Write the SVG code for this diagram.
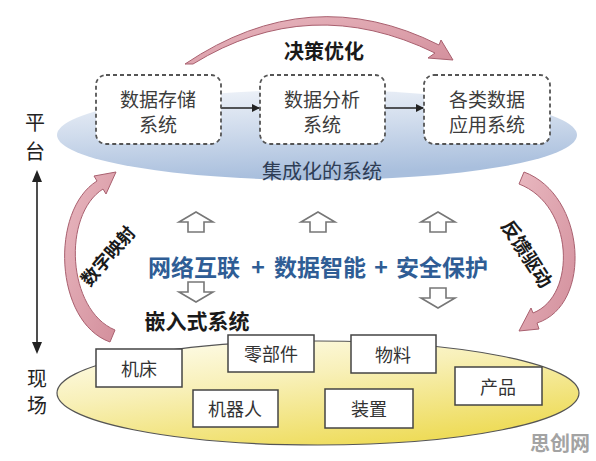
<svg xmlns="http://www.w3.org/2000/svg" width="596" height="461" viewBox="0 0 596 461">
<defs>
<linearGradient id="gBlue" x1="0" y1="0" x2="0.25" y2="1">
<stop offset="0" stop-color="#f2f5fa"/>
<stop offset="0.5" stop-color="#cfdbec"/>
<stop offset="1" stop-color="#a9bfdd"/>
</linearGradient>
<linearGradient id="gYellow" x1="0" y1="0" x2="0.6" y2="1">
<stop offset="0" stop-color="#fffef4"/>
<stop offset="0.45" stop-color="#f8f0b8"/>
<stop offset="1" stop-color="#eedc5a"/>
</linearGradient>
<linearGradient id="gPink" x1="0" y1="0" x2="1" y2="1">
<stop offset="0" stop-color="#e8b7bf"/>
<stop offset="1" stop-color="#d38f9c"/>
</linearGradient>
<marker id="ah" markerWidth="8" markerHeight="8" refX="7" refY="4" orient="auto" markerUnits="userSpaceOnUse">
<path d="M0,0 L8,4 L0,8 Z" fill="#222"/>
</marker>
</defs>
<style>
text{font-family:"Noto Sans CJK SC","Noto Sans",sans-serif;text-anchor:middle;dominant-baseline:central}
.dash{fill:#fff;stroke:#555;stroke-width:1.8;stroke-dasharray:4 3}
.dt{font-size:19px;fill:#3c3c3c}
.box{fill:#fff;stroke:#444;stroke-width:1.5}
.bt{font-size:18px;fill:#333}
.band{fill:url(#gPink);stroke:#a9606f;stroke-width:1}
.hollow{fill:#fff;stroke:#777;stroke-width:1.6;stroke-linejoin:miter}
.main{font-size:23px;font-weight:bold;fill:#2f5d95}
.bold{font-weight:bold;fill:#1a1a1a}
.side{font-size:20px;fill:#222}
.conn{stroke:#222;stroke-width:1.5;fill:none}
</style>

<g id="platform-ellipse">
<ellipse cx="317" cy="135" rx="260" ry="45" fill="url(#gBlue)"/>
</g>
<g id="field-ellipse">
<ellipse cx="318" cy="393" rx="261" ry="52" fill="url(#gYellow)" stroke="#555" stroke-width="1.2"/>
</g>

<g id="connectors">
<line class="conn" x1="221" y1="108" x2="259" y2="108" marker-end="url(#ah)"/>
<line class="conn" x1="385" y1="108" x2="423" y2="108" marker-end="url(#ah)"/>
<line x1="37" y1="180" x2="37" y2="345" stroke="#222" stroke-width="1.6"/>
<path d="M37,170 L32,182 L42,182 Z" fill="#222"/>
<path d="M37,354 L32,342 L42,342 Z" fill="#222"/>
<path class="band" d="M185,64 Q310,-20 439,45 L441,40 L453,60 L428,58 L435,53 Q310,-8 193,64 Z"/>
<path class="band" d="M110,342 C54,322 50,210 97,181 L94,176 L116,172 L106,194 L103,189 C62,215 67,310 115,330 Z"/>
<path class="band" d="M524,172 C586,195 593,305 537,323 L539,329 L519,331 L531,308 L533,313 C577,296 574,205 519,184 Z"/>
<path class="hollow" d="M196,212 L213,222 L204,222 L204,232 L188,232 L188,222 L179,222 Z"/>
<path class="hollow" d="M318,212 L335,222 L326,222 L326,232 L310,232 L310,222 L301,222 Z"/>
<path class="hollow" d="M438,212 L455,222 L446,222 L446,232 L430,232 L430,222 L421,222 Z"/>
<path class="hollow" d="M196,302 L213,292 L204,292 L204,282 L188,282 L188,292 L179,292 Z"/>
<path class="hollow" d="M438,308 L455,298 L446,298 L446,288 L430,288 L430,298 L421,298 Z"/>
</g>

<g id="node-storage">
<rect class="dash" x="96" y="75" width="125" height="69" rx="10"/>
<text class="dt" x="158" y="98">数据存储</text>
<text class="dt" x="158" y="123">系统</text>
</g>
<g id="node-analysis">
<rect class="dash" x="260" y="75" width="125" height="69" rx="10"/>
<text class="dt" x="322" y="98">数据分析</text>
<text class="dt" x="322" y="123">系统</text>
</g>
<g id="node-apps">
<rect class="dash" x="424" y="75" width="126" height="69" rx="10"/>
<text class="dt" x="487" y="98">各类数据</text>
<text class="dt" x="487" y="123">应用系统</text>
</g>

<g id="labels">
<text class="bold" x="324" y="50" font-size="20">决策优化</text>
<text x="322" y="170" font-size="20" fill="#2e3d55">集成化的系统</text>
<text class="side" x="35" y="121">平</text>
<text class="side" x="35" y="150">台</text>
<text class="side" x="37" y="377">现</text>
<text class="side" x="37" y="404">场</text>
<text class="bold" x="107" y="255" font-size="18" transform="rotate(-49 107 255)">数字映射</text>
<text class="bold" x="528" y="253" font-size="19" transform="rotate(57 528 253)">反馈驱动</text>
<text class="main" x="194" y="266">网络互联</text>
<text class="main" x="258" y="266">+</text>
<text class="main" x="320" y="266">数据智能</text>
<text class="main" x="381" y="266">+</text>
<text class="main" x="442" y="266">安全保护</text>
<text class="bold" x="197" y="320" font-size="21">嵌入式系统</text>
<text x="560" y="442" font-size="20" font-weight="bold" fill="#a3a3a3">思创网</text>
</g>

<g id="node-machine-tool">
<rect class="box" x="96" y="349" width="86" height="38"/>
<text class="bt" x="139" y="368">机床</text>
</g>
<g id="node-parts">
<rect class="box" x="228" y="335" width="86" height="37"/>
<text class="bt" x="271" y="353">零部件</text>
</g>
<g id="node-material">
<rect class="box" x="351" y="335" width="85" height="38"/>
<text class="bt" x="393" y="354">物料</text>
</g>
<g id="node-product">
<rect class="box" x="455" y="367" width="87" height="38"/>
<text class="bt" x="498" y="386">产品</text>
</g>
<g id="node-robot">
<rect class="box" x="193" y="390" width="85" height="37"/>
<text class="bt" x="235" y="408">机器人</text>
</g>
<g id="node-device">
<rect class="box" x="325" y="389" width="88" height="39"/>
<text class="bt" x="369" y="408">装置</text>
</g>
</svg>
